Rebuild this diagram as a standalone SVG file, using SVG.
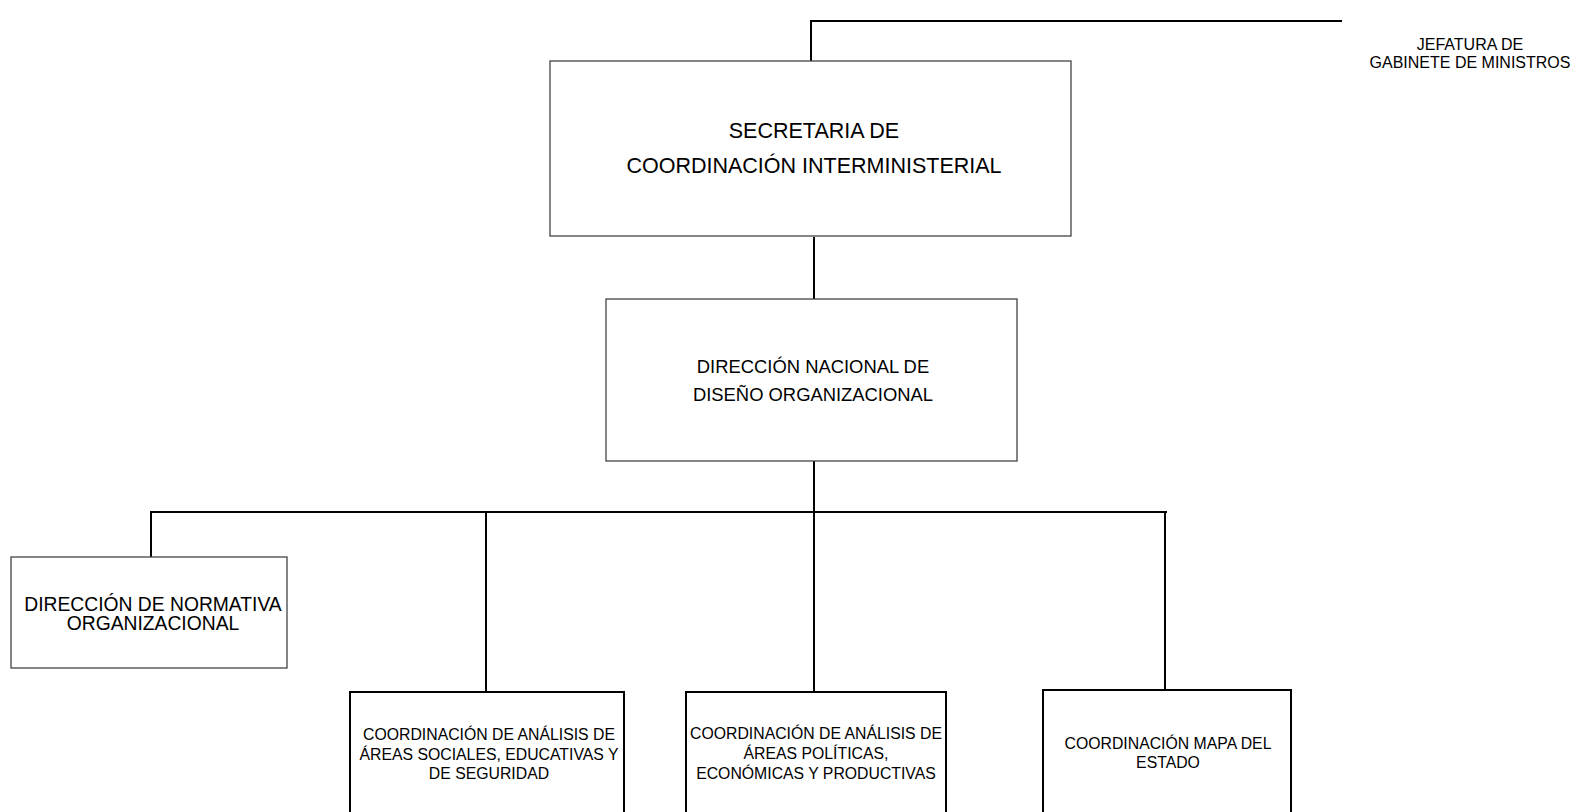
<svg xmlns="http://www.w3.org/2000/svg" width="1574" height="812" viewBox="0 0 1574 812">
<style>
.bg{fill:#fff}
.thin{fill:#fff;stroke:#444;stroke-width:1.3}
.thick{fill:#fff;stroke:#000;stroke-width:2}
.conn{fill:none;stroke:#000;stroke-width:2}
text{font-family:"Liberation Sans",Arial,sans-serif;fill:#000;text-anchor:middle}
.t21{font-size:21.5px}
.t18{font-size:18.4px}
.t19{font-size:19.3px}
.t15{font-size:15.8px}
.tj{font-size:16px}
</style>
<rect class="bg" x="0" y="0" width="1574" height="812"/>
<g id="connectors">
<polyline class="conn" points="1342,21 811,21 811,61"/>
<line class="conn" x1="814" y1="237" x2="814" y2="299"/>
<line class="conn" x1="814" y1="461" x2="814" y2="512"/>
<line class="conn" x1="150" y1="512" x2="1167" y2="512"/>
<line class="conn" x1="151" y1="512" x2="151" y2="557"/>
<line class="conn" x1="486" y1="512" x2="486" y2="692"/>
<line class="conn" x1="814" y1="512" x2="814" y2="692"/>
<line class="conn" x1="1165" y1="512" x2="1165" y2="690"/>
</g>
<g id="jefatura">
<text class="tj" x="1470" y="50">JEFATURA DE</text>
<text class="tj" x="1470" y="68">GABINETE DE MINISTROS</text>
</g>
<g id="secretaria">
<rect class="thin" x="550" y="61" width="521" height="175"/>
<text class="t21" x="814" y="138">SECRETARIA DE</text>
<text class="t21" x="814" y="173">COORDINACIÓN INTERMINISTERIAL</text>
</g>
<g id="direccion-nacional">
<rect class="thin" x="606" y="299" width="411" height="162"/>
<text class="t18" x="813" y="373">DIRECCIÓN NACIONAL DE</text>
<text class="t18" x="813" y="401">DISEÑO ORGANIZACIONAL</text>
</g>
<g id="normativa">
<rect class="thin" x="11" y="557" width="276" height="111"/>
<text class="t19" x="153" y="611">DIRECCIÓN DE NORMATIVA</text>
<text class="t19" x="153" y="630">ORGANIZACIONAL</text>
</g>
<g id="sociales">
<rect class="thick" x="350" y="692" width="274" height="130"/>
<text class="t15" x="489" y="740">COORDINACIÓN DE ANÁLISIS DE</text>
<text class="t15" x="489" y="760">ÁREAS SOCIALES, EDUCATIVAS Y</text>
<text class="t15" x="489" y="779">DE SEGURIDAD</text>
</g>
<g id="politicas">
<rect class="thick" x="686" y="692" width="260" height="130"/>
<text class="t15" x="816" y="739">COORDINACIÓN DE ANÁLISIS DE</text>
<text class="t15" x="816" y="759">ÁREAS POLÍTICAS,</text>
<text class="t15" x="816" y="779">ECONÓMICAS Y PRODUCTIVAS</text>
</g>
<g id="mapa">
<rect class="thick" x="1043" y="690" width="248" height="132"/>
<text class="t15" x="1168" y="749">COORDINACIÓN MAPA DEL</text>
<text class="t15" x="1168" y="768">ESTADO</text>
</g>
</svg>
